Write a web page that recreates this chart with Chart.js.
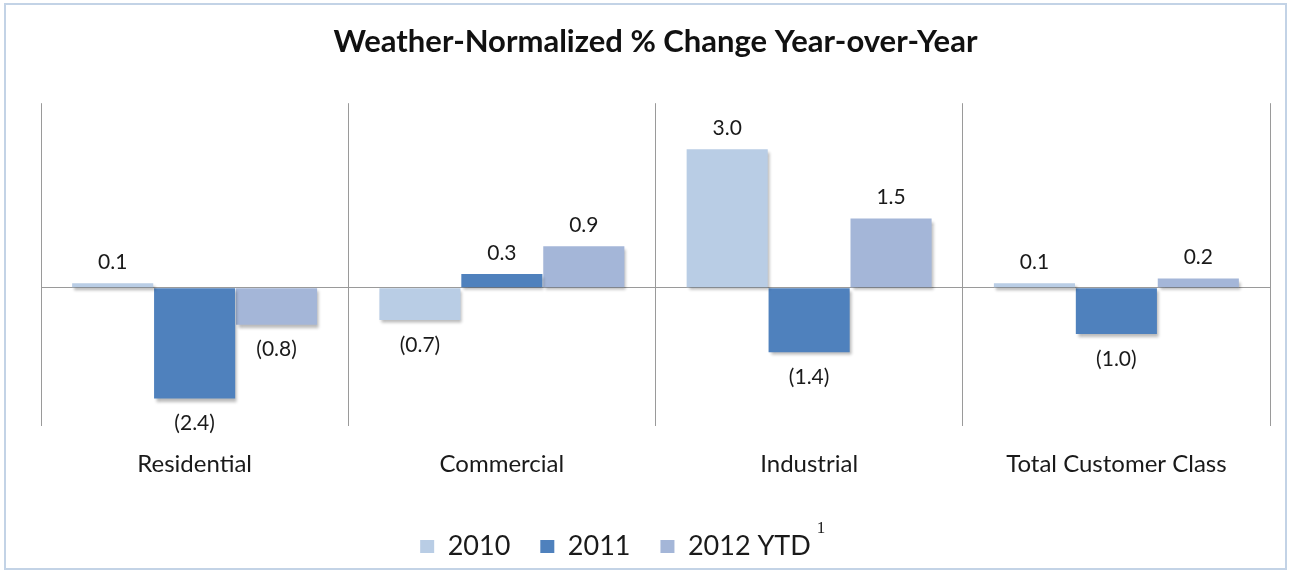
<!DOCTYPE html>
<html>
<head>
<meta charset="utf-8">
<script src="https://cdn.jsdelivr.net/npm/chart.js@4"></script>
<style>
  html, body { margin: 0; padding: 0; background: #fff; }
  #wrap { position: relative; width: 1294px; height: 572px; }
  #frame { position: absolute; left: 4px; top: 3px; width: 1279px; height: 563px;
           border: 2px solid #c3d3e6; pointer-events: none; }
</style>
</head>
<body>
<div id="wrap">
  <canvas id="chart" width="1294" height="572"></canvas>
  <div id="frame"></div>
</div>
<script>
// data
const categories = ['Residential', 'Commercial', 'Industrial', 'Total Customer Class'];
const seriesNames = ['2010', '2011', '2012 YTD'];
const values2010 = [0.1, -0.7, 3.0, 0.1];
const values2011 = [-2.4, 0.3, -1.4, -1.0];
const values2012 = [-0.8, 0.9, 1.5, 0.2];
const yTicks = { min: -3, max: 4, step: 1 };

const colors = ['#b9cde5', '#4f81bd', '#a4b6d8'];
const FONT = 'Lato, "Open Sans", sans-serif';

const fmt = v => v < 0 ? '(' + Math.abs(v).toFixed(1) + ')' : v.toFixed(1);

// soft drop shadow under the bars, like the office chart
const barShadow = {
  id: 'barShadow',
  beforeDatasetsDraw(chart) {
    const c = chart.ctx;
    c.save();
    c.shadowColor = 'rgba(0,0,0,0.28)';
    c.shadowOffsetX = 2;
    c.shadowOffsetY = 3;
    c.shadowBlur = 3;
  },
  afterDatasetsDraw(chart) { chart.ctx.restore(); }
};

const valueLabels = {
  id: 'valueLabels',
  afterDatasetsDraw(chart) {
    const c = chart.ctx;
    c.save();
    c.font = '21px ' + FONT;
    c.fillStyle = '#1a1a1a';
    c.textAlign = 'center';
    c.textBaseline = 'middle';
    chart.data.datasets.forEach((ds, i) => {
      chart.getDatasetMeta(i).data.forEach((bar, j) => {
        const v = ds.data[j];
        const y = v < 0 ? bar.y + 25 : bar.y - 21;
        c.fillText(fmt(v), bar.x, y);
      });
    });
    c.restore();
  }
};

// legend in the original sits a bit left of centre
const legendShift = {
  id: 'legendShift',
  afterLayout(chart) {
    chart.legend.left -= 40;
    chart.legend.right -= 40;
  }
};

// footnote marker after the last legend entry
const footnote = {
  id: 'footnote',
  afterDraw(chart) {
    const boxes = chart.legend.legendHitBoxes;
    if (!boxes || !boxes.length) return;
    const b = boxes[boxes.length - 1];
    const c = chart.ctx;
    c.save();
    c.font = '17px "Liberation Serif", serif';
    c.fillStyle = '#1a1a1a';
    c.textBaseline = 'middle';
    c.fillText('1', b.left + b.width + 6, b.top - 4);
    c.restore();
  }
};

new Chart(document.getElementById('chart'), {
  type: 'bar',
  data: {
    labels: categories,
    datasets: [values2010, values2011, values2012].map((d, i) => ({
      label: seriesNames[i],
      data: d,
      backgroundColor: colors[i],
      borderWidth: 0,
      categoryPercentage: 0.8,
      barPercentage: 0.99
    }))
  },
  options: {
    responsive: false,
    animation: false,
    layout: { padding: { left: 41, right: 24, bottom: 2 } },
    plugins: {
      title: {
        display: true,
        text: 'Weather-Normalized % Change Year-over-Year',
        color: '#111',
        font: { family: FONT, size: 31, weight: 'bold' },
        padding: { top: 23, bottom: 43 }
      },
      legend: {
        position: 'bottom',
        labels: {
          color: '#1a1a1a',
          font: { family: FONT, size: 27 },
          boxWidth: 14,
          boxHeight: 13,
          padding: 30
        }
      },
      tooltip: { enabled: false }
    },
    scales: {
      x: {
        grid: { color: '#9a9a9a', lineWidth: 1, drawTicks: false, offset: true },
        border: { display: false },
        ticks: { color: '#1a1a1a', font: { family: FONT, size: 24 }, padding: 24 }
      },
      y: {
        min: yTicks.min,
        max: yTicks.max,
        ticks: { display: false, stepSize: yTicks.step },
        grid: {
          drawTicks: false,
          color: ctx => ctx.tick && ctx.tick.value === 0 ? '#9a9a9a' : 'rgba(0,0,0,0)'
        },
        border: { display: false }
      }
    }
  },
  plugins: [legendShift, barShadow, valueLabels, footnote]
});
</script>
</body>
</html>
